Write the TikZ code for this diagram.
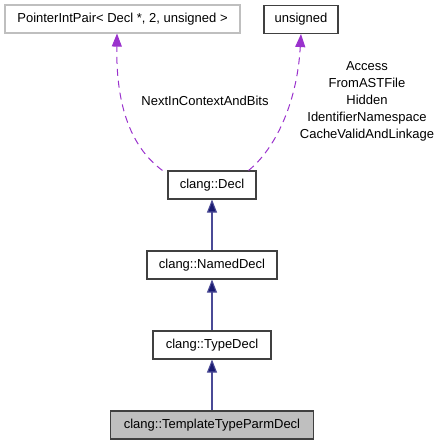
\documentclass[tikz,border=0pt]{standalone}
\usepackage{xcolor}
\usepackage{fontspec}
\setmainfont{Liberation Sans}
\usepackage{tikz}
\usetikzlibrary{positioning, arrows.meta, calc}
\definecolor{edgeblue}{HTML}{191970}
\definecolor{edgeline}{HTML}{4A4A96}
\definecolor{member}{HTML}{9A32CD}
\definecolor{boxline}{HTML}{404040}
\definecolor{boxlight}{HTML}{BFBFBF}
\definecolor{current}{HTML}{BFBFBF}
\tikzset{
  cls/.style      = {rectangle, draw=boxline, line width=1.1pt, fill=white,
                     minimum height=28pt, inner sep=2pt, align=center,
                     font=\fontsize{13}{15}\selectfont},
  ext/.style      = {cls, draw=boxlight},
  cur/.style      = {cls, fill=current},
  inh/.style      = {-{Triangle[length=13pt,width=10pt,fill=edgeblue]}, line width=1.1pt,
                     draw=edgeline},
  use/.style      = {-{Triangle[length=13pt,width=10pt,fill=member]}, line width=1pt,
                     draw=member, dash pattern=on 7pt off 5pt},
  lbl/.style      = {font=\fontsize{13}{17}\selectfont, align=center, inner sep=0pt},
}

\begin{document}
\begin{tikzpicture}[x=1pt, y=-1pt]
  \useasboundingbox (0,0) rectangle (440,445);

  \node[ext, minimum width=235pt] (pip) at (122.5,19) {PointerIntPair< Decl *, 2, unsigned >};
  \node[cls, minimum width=74pt] (uns) at (301,19.5) {unsigned};
  \node[cls, minimum width=88pt] (decl) at (212,185) {clang::Decl};
  \node[cls, minimum width=130pt] (named) at (212,265) {clang::NamedDecl};
  \node[cls, minimum width=118pt] (type) at (212,345) {clang::TypeDecl};
  \node[cur, minimum width=203pt] (ttpd) at (212,425) {clang::TemplateTypeParmDecl};

  % inheritance
  \draw[inh] (named) -- (decl);
  \draw[inh] (type) -- (named);
  \draw[inh] (ttpd) -- (type);

  % members
  \draw[use] ([xshift=-5pt]decl.north west) .. controls (128,145) and (116,100) .. ([xshift=-5.5pt]pip.south);
  \draw[use] ([xshift=-8pt]decl.north east) .. controls (274,150) and (297,105) .. (uns.south);

  \node[lbl] (nicab) at (205,101) {NextInContextAndBits};
  \node[lbl] (bits) at (367,101) {Access\\FromASTFile\\Hidden\\IdentifierNamespace\\CacheValidAndLinkage};

\end{tikzpicture}
\end{document}
